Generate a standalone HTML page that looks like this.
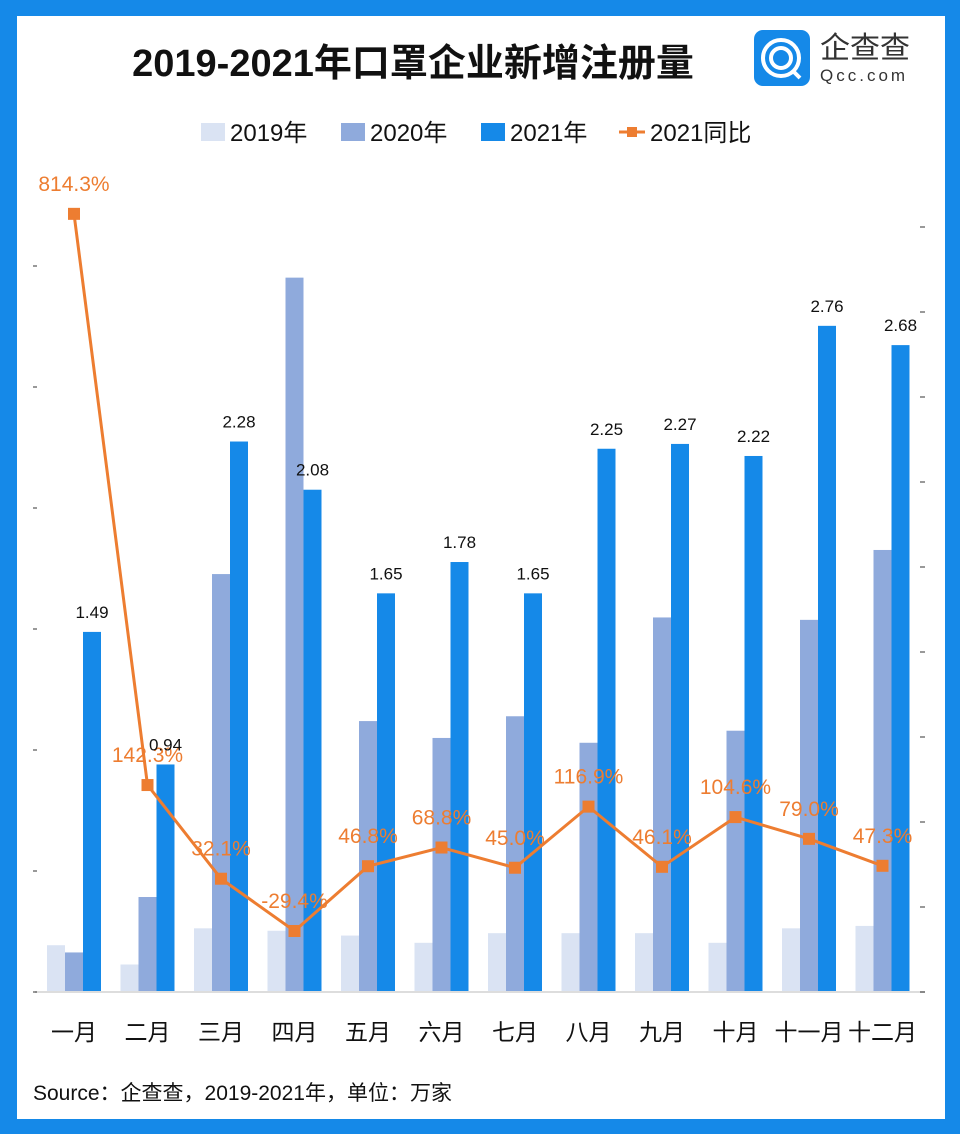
<!DOCTYPE html>
<html><head><meta charset="utf-8"><style>
body{margin:0;width:960px;height:1134px;overflow:hidden;background:#fff;font-family:"Liberation Sans","Noto Sans CJK SC",sans-serif}
#frame{position:absolute;left:0;top:0;width:960px;height:1134px;box-sizing:border-box;border-style:solid;border-color:#1589e8;border-width:16px 15px 15px 17px}
</style></head><body>
<div id="frame"></div>
<svg width="960" height="1134" style="position:absolute;left:0;top:0">
<text x="413" y="76" font-size="38" font-weight="bold" text-anchor="middle" fill="#111" font-family="Liberation Sans,Noto Sans CJK SC,sans-serif">2019-2021年口罩企业新增注册量</text>
<g>
<rect x="754" y="30" width="56" height="56" rx="9" fill="#1589e8"/>
<circle cx="781" cy="58" r="18" fill="none" stroke="#fff" stroke-width="4"/>
<circle cx="781" cy="58" r="10" fill="none" stroke="#fff" stroke-width="4"/>
<line x1="792" y1="70" x2="800" y2="78" stroke="#fff" stroke-width="4"/>
<text x="820" y="58" font-size="30" fill="#333" font-family="Noto Sans CJK SC,sans-serif">企查查</text>
<text x="820" y="81" font-size="17" fill="#333" letter-spacing="3" font-family="Liberation Sans,sans-serif">Qcc.com</text>
</g>
<g id="legend" font-size="24" fill="#111" font-family="Liberation Sans,Noto Sans CJK SC,sans-serif">
<rect x="201" y="123" width="24" height="18" fill="#dae3f3"/>
<text x="230" y="141">2019年</text>
<rect x="341" y="123" width="24" height="18" fill="#8faadc"/>
<text x="370" y="141">2020年</text>
<rect x="481" y="123" width="24" height="18" fill="#1589e8"/>
<text x="510" y="141">2021年</text>
<line x1="619" y1="132" x2="645" y2="132" stroke="#ed7d31" stroke-width="3"/>
<rect x="627" y="127" width="10" height="10" fill="#ed7d31"/>
<text x="650" y="141">2021同比</text>
</g>
<g id="axes"></g>
<g id="bars"></g>
<g id="line"></g>
<g id="labels"></g>
<text x="33" y="1100" font-size="21" fill="#111" font-family="Liberation Sans,Noto Sans CJK SC,sans-serif">Source：企查查，2019-2021年，单位：万家</text>
</svg>
<script>
const months=["一月","二月","三月","四月","五月","六月","七月","八月","九月","十月","十一月","十二月"];
const v2019=[0.19,0.11,0.26,0.25,0.23,0.20,0.24,0.24,0.24,0.20,0.26,0.27];
const v2020=[0.16,0.39,1.73,2.96,1.12,1.05,1.14,1.03,1.55,1.08,1.54,1.83];
const v2021=[1.49,0.94,2.28,2.08,1.65,1.78,1.65,2.25,2.27,2.22,2.76,2.68];
const yoy=[814.3,142.3,32.1,-29.4,46.8,68.8,45.0,116.9,46.1,104.6,79.0,47.3];
const NS="http://www.w3.org/2000/svg";
const base=991, yScale=241;
function y(v){return base-v*yScale;}
function x(i){return 74+i*73.5;}
function y2(p){return 906-p*0.85;}
function mk(tag,attrs,parent){const e=document.createElementNS(NS,tag);for(const k in attrs)e.setAttribute(k,attrs[k]);document.getElementById(parent).appendChild(e);return e;}
const ax=mk("line",{x1:35,y1:992,x2:925,y2:992,stroke:"#ddd","stroke-width":2},"axes");


for(let k=0;k<7;k++){const t=mk("line",{x1:33,x2:37,y1:992-k*121,y2:992-k*121,stroke:"#333"},"axes");

}
for(let k=0;k<10;k++){const t=mk("line",{x1:920,x2:925,y1:992-k*85,y2:992-k*85,stroke:"#333"},"axes");

}
const series=[[v2019,"#dae3f3",-27],[v2020,"#8faadc",-9],[v2021,"#1589e8",9]];
months.forEach((m,i)=>{
 series.forEach((s,j)=>{
  const r=mk("rect",{x:x(i)+s[2],y:y(s[0][i]),width:18,height:base-y(s[0][i]),fill:s[1]},"bars");
  
  
 });
 const t=mk("text",{x:x(i),y:1040,"font-size":23,"text-anchor":"middle",fill:"#111"},"labels");
 t.textContent=m;
 
 
 const vl=mk("text",{x:x(i)+18,y:y(v2021[i])-14,"font-size":17,"text-anchor":"middle",fill:"#111"},"labels");
 vl.textContent=v2021[i].toFixed(2);
 
 
});
const pts=yoy.map((p,i)=>x(i)+","+y2(p)).join(" ");
const pl=mk("polyline",{points:pts,fill:"none",stroke:"#ed7d31","stroke-width":3},"line");


yoy.forEach((p,i)=>{
 const r=mk("rect",{x:x(i)-6,y:y2(p)-6,width:12,height:12,fill:"#ed7d31"},"line");
 
 
 const t=mk("text",{x:x(i),y:y2(p)-23,"font-size":21,"text-anchor":"middle",fill:"#ed7d31"},"line");
 t.textContent=p.toFixed(1)+"%";
 
 
});
</script>
</body></html>
